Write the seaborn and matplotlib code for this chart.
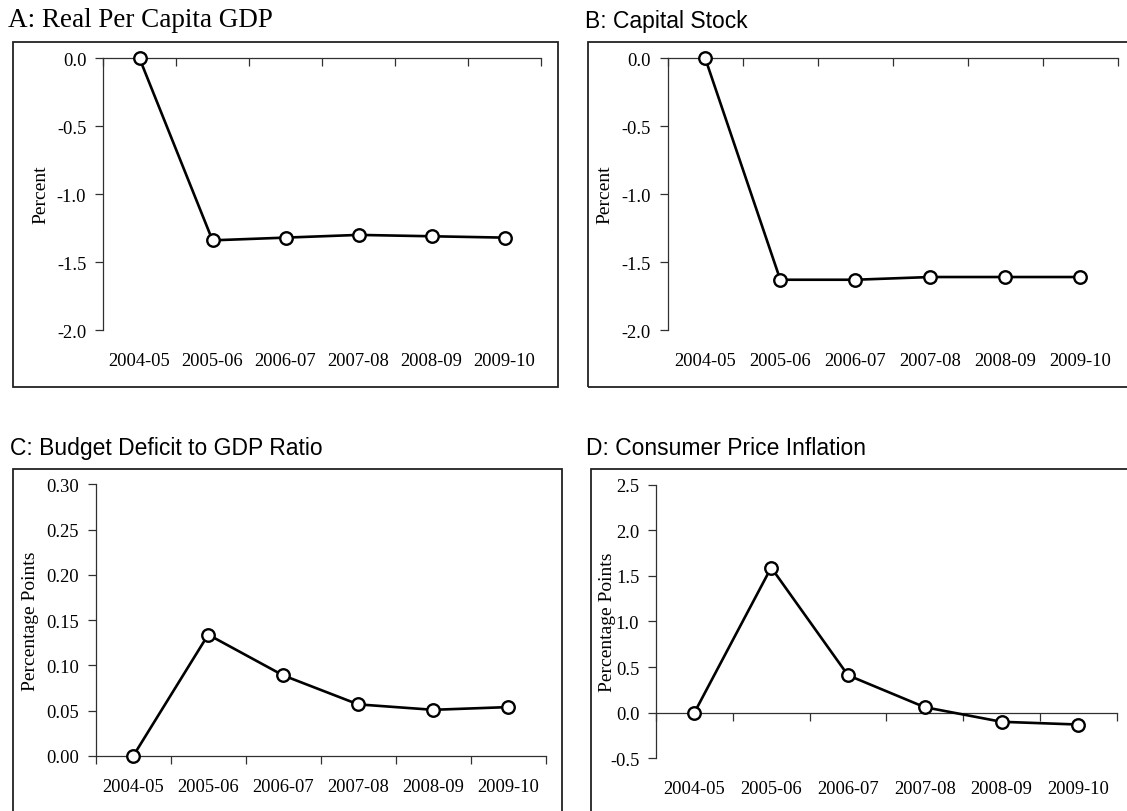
import numpy as np
import pandas as pd
import matplotlib
matplotlib.use("Agg")
import matplotlib.pyplot as plt
import seaborn as sns
from matplotlib.patches import Rectangle
from matplotlib.ticker import FormatStrFormatter

# ---- data ----
categories = ['2004-05', '2005-06', '2006-07', '2007-08', '2008-09', '2009-10']
gdp = [0.0, -1.34, -1.32, -1.30, -1.31, -1.32]
capital = [0.0, -1.63, -1.63, -1.61, -1.61, -1.61]
deficit = [0.0, 0.134, 0.089, 0.057, 0.051, 0.054]
inflation = [0.0, 1.59, 0.41, 0.06, -0.10, -0.13]

titles = ['A: Real Per Capita GDP', 'B: Capital Stock',
          'C: Budget Deficit to GDP Ratio', 'D: Consumer Price Inflation']
ylabels = ['Percent', 'Percent', 'Percentage Points', 'Percentage Points']
yticks_list = [[-2.0, -1.5, -1.0, -0.5, 0.0],
               [-2.0, -1.5, -1.0, -0.5, 0.0],
               [0.00, 0.05, 0.10, 0.15, 0.20, 0.25, 0.30],
               [-0.5, 0.0, 0.5, 1.0, 1.5, 2.0, 2.5]]
yfmt = ['%.1f', '%.1f', '%.2f', '%.1f']
series = [gdp, capital, deficit, inflation]

sns.set_style('ticks')
plt.rcParams['font.family'] = ['Liberation Serif', 'DejaVu Serif']
plt.rcParams['axes.unicode_minus'] = False

W, H = 1127, 812
fig = plt.figure(figsize=(W / 100, H / 100), dpi=100)

# layout in pixels (left, right, top, bottom) of plot areas
areas = [(103, 541, 59.3, 331), (667.7, 1118, 59.3, 331),
         (95.7, 545.7, 485.3, 757), (656, 1116.7, 485.5, 759.3)]
boxes = [(13, 558, 43, 388), (587.5, 1135, 43, 388),
         (13, 562, 469.5, 820), (590.5, 1135, 469.5, 820)]
title_pos = [(8, 27), (585, 28.3), (10, 455), (586, 455)]
title_fonts = [('Liberation Serif', 19.5), ('Liberation Sans', 16.5),
               ('Liberation Sans', 16.5), ('Liberation Sans', 16.5)]
ylabel_x = [39.5, 603, 28.6, 605.6]

axcol = '#303030'
for i in range(4):
    l, r, t, b = areas[i]
    ax = fig.add_axes([l / W, 1 - b / H, (r - l) / W, (b - t) / H])
    df = pd.DataFrame({'pos': np.arange(len(categories)), 'val': series[i]})
    sns.lineplot(data=df, x='pos', y='val', ax=ax, color='black', linewidth=1.9,
                 marker='o', markersize=9, markerfacecolor='white',
                 markeredgecolor='black', markeredgewidth=1.7, clip_on=False,
                 zorder=5)
    yt = yticks_list[i]
    ax.set_ylim(yt[0], yt[-1])
    ax.set_yticks(yt)
    ax.yaxis.set_major_formatter(FormatStrFormatter(yfmt[i]))
    ax.set_xlim(-0.5, len(categories) - 0.5)
    ax.set_xticks(np.arange(len(categories)))
    ax.set_xticklabels(categories)
    ax.set_xticks(np.arange(-0.5, len(categories), 1.0), minor=True)
    ax.tick_params(axis='x', which='major', bottom=True, top=False, length=0,
                   pad=15.5, labelsize=13.3, labelcolor='black')
    ax.tick_params(axis='x', which='minor', bottom=False, top=True,
                   direction='in', length=6, width=0.9, color=axcol)
    ax.tick_params(axis='y', which='major', left=True, direction='out',
                   length=6, width=0.9, color=axcol, pad=6, labelsize=13.3,
                   labelcolor='black')
    ax.spines['bottom'].set_visible(False)
    ax.spines['right'].set_visible(False)
    ax.spines['top'].set_position(('data', 0))
    for s in ('top', 'left'):
        ax.spines[s].set_linewidth(0.9)
        ax.spines[s].set_color(axcol)
    ax.set_xlabel('')
    ax.set_ylabel(ylabels[i], fontsize=14, color='black')
    ax.yaxis.set_label_coords((ylabel_x[i] + 10 - l) / (r - l), 0.5)
    ax.patch.set_alpha(0)

    bl, br, bt, bb = boxes[i]
    fig.add_artist(Rectangle((bl / W, 1 - bb / H), (br - bl) / W, (bb - bt) / H,
                             transform=fig.transFigure, fill=False,
                             linewidth=1.3, edgecolor='#222222', zorder=0))
    tx, ty = title_pos[i]
    fam, fs = title_fonts[i]
    fig.text(tx / W, 1 - ty / H, titles[i], family=fam, fontsize=fs,
             ha='left', va='baseline', color='black')

fig.savefig('out.png', dpi=100)
